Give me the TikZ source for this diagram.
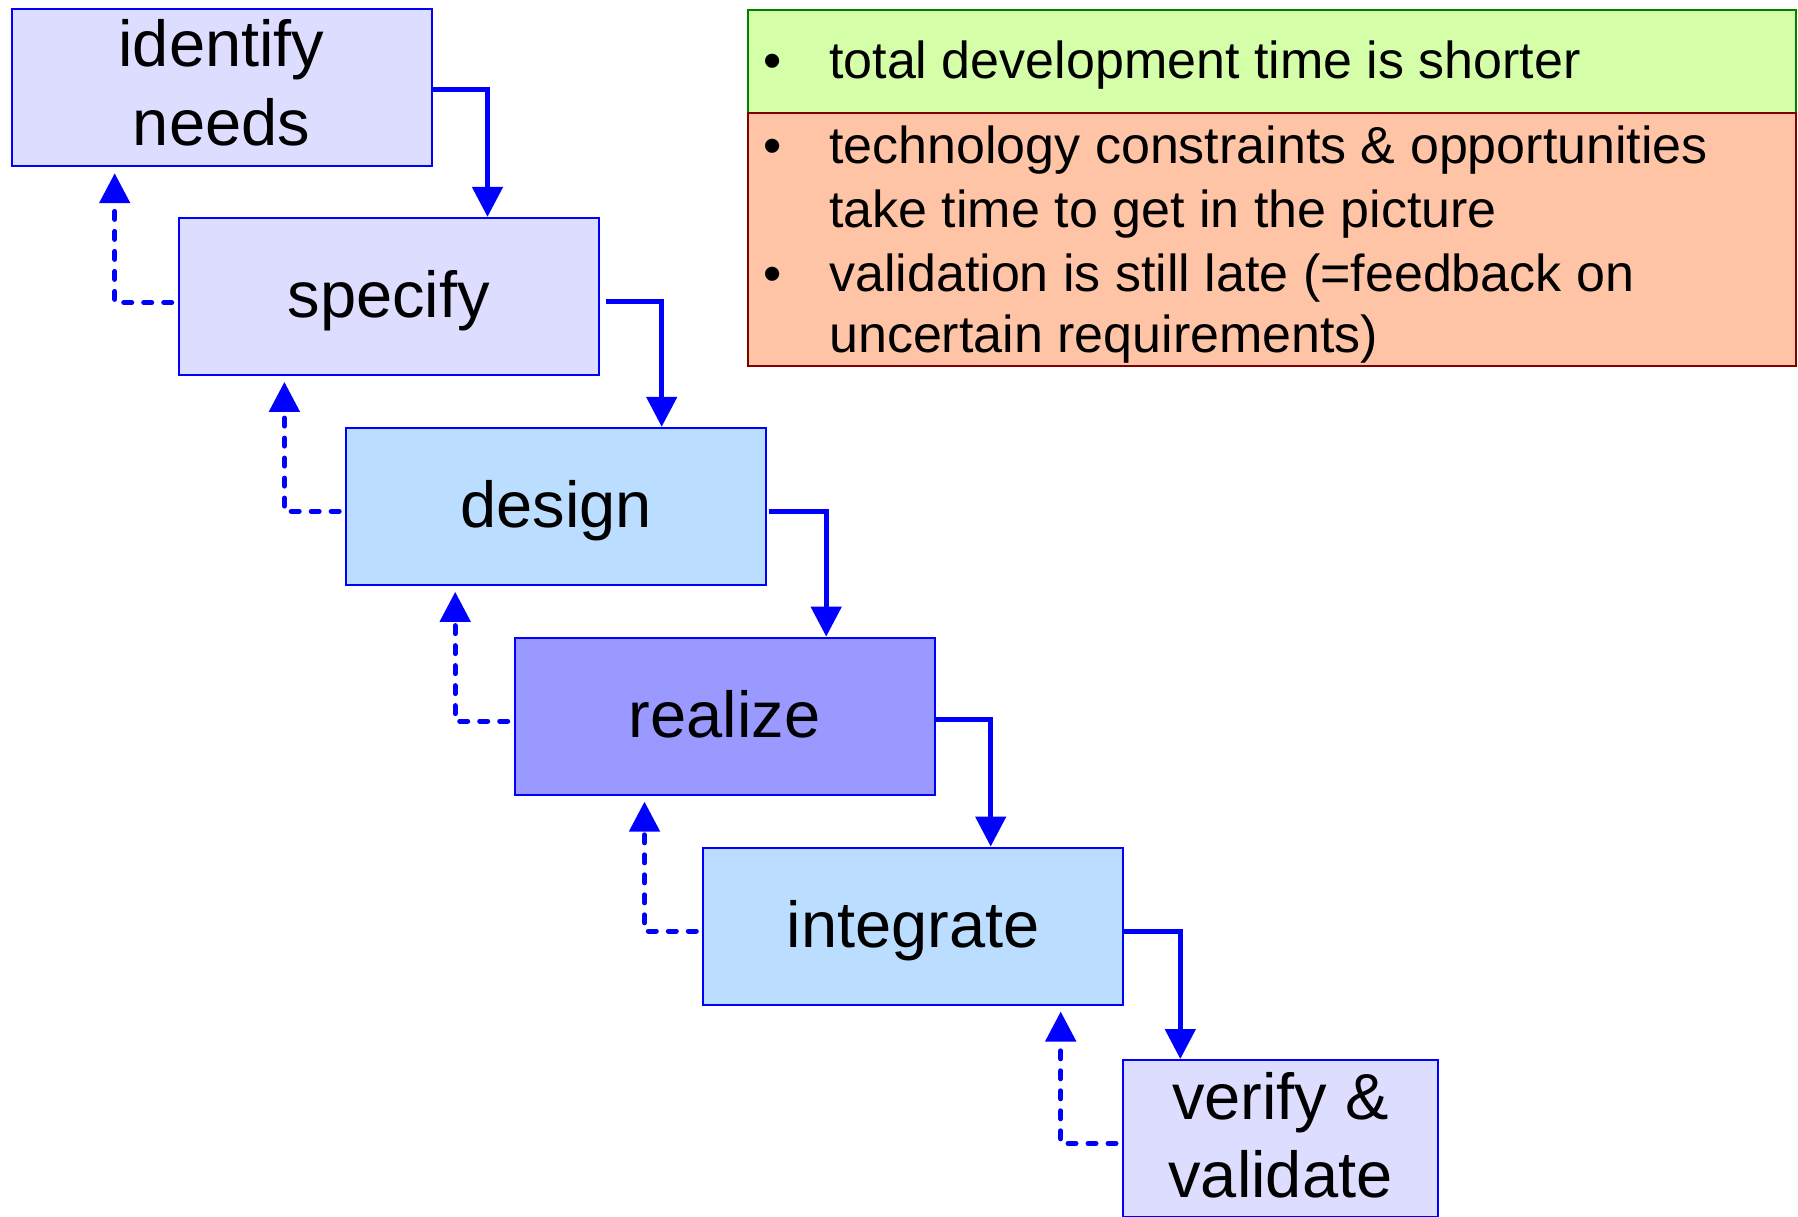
\documentclass[tikz,border=0pt]{standalone}
\usepackage{fontspec}
\setmainfont{Liberation Sans}
\usetikzlibrary{arrows.meta,calc}
\definecolor{lav}{RGB}{221,221,255}
\definecolor{lblue}{RGB}{187,221,255}
\definecolor{mblue}{RGB}{153,153,255}
\definecolor{progreen}{RGB}{212,255,168}
\definecolor{conred}{RGB}{255,196,166}
\definecolor{dgreen}{RGB}{0,128,0}
\definecolor{dred}{RGB}{128,0,0}
\begin{document}
\begin{tikzpicture}[x=1pt,y=-1pt,
  stage/.style={draw=blue, line width=2pt, minimum width=420pt, minimum height=157pt,
    inner sep=0pt, align=center, font=\fontsize{65}{79}\selectfont,
    text height=48pt, text depth=6pt},
  stagebox/.style={draw=blue, line width=2pt, minimum width=420pt, minimum height=157pt,
    inner sep=0pt},
  stagetext/.style={inner sep=0pt, align=center, font=\fontsize{65}{79}\selectfont},
  flow/.style={draw=blue, line width=5pt, -{Triangle[length=30pt,width=30pt]}},
  back/.style={draw=blue, line width=5pt, line cap=round, dash pattern=on 8pt off 12pt,
    -{Triangle[length=30pt,width=30pt]}},
  infobox/.style={line width=2pt, minimum width=1048pt, anchor=north west, inner sep=0pt},
  itemtext/.style={anchor=base west, inner sep=0pt, font=\fontsize{52}{63}\selectfont},
  bul/.style={anchor=base, inner sep=0pt, font=\fontsize{52}{63}\selectfont}]
\useasboundingbox (0,0) rectangle (1798,1217);

% stages
\node[stagebox, fill=lav] (identify)  at (221.5,87.7) {};
\node[stagetext] (identifytext) at (221.5,83) {identify\\needs};
\node[stage, fill=lav]   (specify)   at (388.7,296.4) {specify};
\node[stage, fill=lblue] (design)    at (556.2,506.3) {design};
\node[stage, fill=mblue] (realize)   at (724.7,716.1) {realize};
\node[stage, fill=lblue] (integrate) at (913.3,926.0) {integrate};
\node[stagebox, fill=lav, minimum width=315pt] (verify) at (1280.5,1138.5) {};
\node[stagetext, font=\fontsize{65}{78}\selectfont] (verifytext) at (1280.5,1135.5) {verify \&\\validate};

% forward flow
\coordinate (s1) at ($(identify.east)+(55,0)$);
\coordinate (s2) at ($(specify.east)+(62,0)$);
\coordinate (s3) at ($(design.east)+(59,0)$);
\coordinate (s4) at ($(realize.east)+(55,0)$);
\coordinate (s5) at ($(integrate.east)+(56,0)$);
\draw[flow] ($(identify.east)+(0,2)$) -| (s1 |- specify.north);
\draw[flow] ($(specify.east)+(6,5)$) -| (s2 |- design.north);
\draw[flow] ($(design.east)+(2,5)$) -| (s3 |- realize.north);
\draw[flow] ($(realize.east)+(0,3)$) -| (s4 |- integrate.north);
\draw[flow] ($(integrate.east)+(0,5)$) -| (s5 |- verify.north);

% feedback
\path (identify.south) ++(0,6) coordinate (i6);
\path (specify.south) ++(0,6) coordinate (sp6);
\path (design.south) ++(0,6) coordinate (de6);
\path (realize.south) ++(0,6) coordinate (re6);
\path (integrate.south) ++(0,6) coordinate (in6);
\coordinate (d1) at (114.7,0);
\coordinate (d2) at (284.4,0);
\coordinate (d3) at (455.2,0);
\coordinate (d4) at (644.5,0);
\coordinate (d5) at (1060.7,0);
\draw[back] ($(specify.west)+(-6,6)$) -| (d1 |- i6);
\draw[back] ($(design.west)+(-6,5)$) -| (d2 |- sp6);
\draw[back] ($(realize.west)+(-6,5)$) -| (d3 |- de6);
\draw[back] ($(integrate.west)+(-6,5)$) -| (d4 |- re6);
\draw[back] ($(verify.west)+(-6,5)$) -| (d5 |- in6);

% info boxes
\node[infobox, draw=dgreen, fill=progreen, minimum height=103pt] (pro) at (746.5,9) {};
\node[infobox, draw=dred, fill=conred, minimum height=253pt] (con) at (746.5,112) {};

\node[bul] (b1) at (773,78.6) {\textbullet};
\node[itemtext] (t1) at (829,78.6) {total development time is shorter};
\node[bul] (b2) at (773,164) {\textbullet};
\node[itemtext] (t2) at (829,164) {technology constraints \& opportunities};
\node[itemtext] (t3) at (829,227) {take time to get in the picture};
\node[bul] (b3) at (773,291) {\textbullet};
\node[itemtext] (t4) at (829,291) {validation is still late (=feedback on};
\node[itemtext] (t5) at (829,352.5) {uncertain requirements)};
\end{tikzpicture}
\end{document}
